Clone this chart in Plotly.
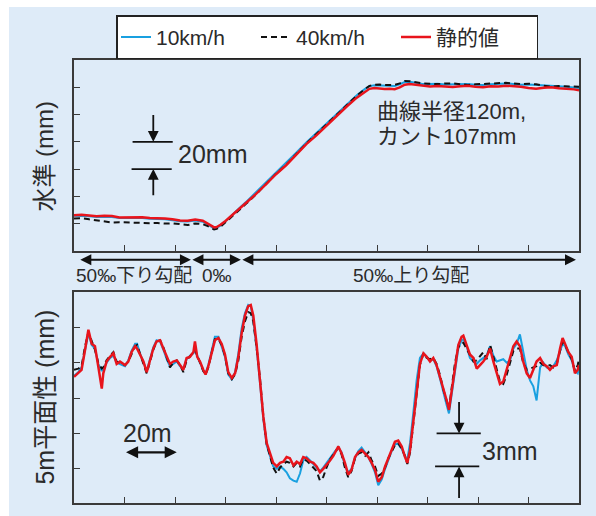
import plotly.graph_objects as go

# ---------------- data ----------------
series_names = ["10km/h", "40km/h", "静的値"]

# top panel: 水準 (mm) vs distance (m)
top_x = [0, 3, 6, 9, 12, 15, 18, 21, 24, 27, 30, 33, 36, 39, 42, 45, 48, 51, 53, 54.5, 55.5,
         56.5, 58, 60, 62, 65, 68, 72, 76, 80, 84, 88, 92, 96, 100, 104, 108, 112, 115, 117,
         119, 121, 123, 125, 127, 129, 131, 133, 135, 138, 141, 144, 147, 150, 153, 156, 159,
         162, 165, 168, 171, 174, 177, 180, 183, 186, 189, 192, 195, 198, 200]
top_red = [6.1, 6.3, 5.8, 5.3, 5.6, 5.5, 4.4, 4.6, 4.3, 4.5, 4.0, 3.9, 3.6, 3.0, 2.2, 2.0, 2.9,
           2.0, 0.0, -2.0, -2.9, -2.6, -1.0, 1.8, 5.0, 9.8, 14.5, 21.5, 28.8, 36.2, 42.8, 50.5,
           58.3, 64.8, 71.8, 79.5, 86.0, 92.5, 96.8, 99.0, 99.6, 99.2, 98.8, 99.0, 98.7, 100.0,
           102.0, 102.6, 102.2, 101.2, 100.8, 101.0, 100.6, 100.3, 100.9, 101.3, 100.6, 100.2,
           100.9, 100.8, 101.3, 101.0, 100.5, 99.6, 99.0, 99.8, 100.1, 99.4, 99.2, 98.6, 98.0]
top_blue = [5.6, 5.6, 5.2, 4.8, 4.9, 4.8, 3.9, 4.0, 3.8, 3.9, 3.4, 3.3, 3.0, 2.4, 1.6, 1.4, 2.2,
            1.3, -0.6, -2.6, -3.6, -3.2, -1.6, 1.5, 5.2, 10.5, 15.5, 22.8, 30.0, 37.6, 44.2,
            52.0, 59.6, 66.5, 73.5, 81.0, 87.8, 94.2, 98.6, 101.0, 101.6, 101.4, 101.2, 101.4,
            101.0, 102.4, 104.0, 104.2, 103.6, 102.6, 102.5, 102.8, 102.2, 102.4, 102.8, 102.6,
            102.0, 101.8, 102.3, 102.5, 103.0, 102.6, 102.0, 102.2, 101.8, 101.5, 100.8, 100.9,
            100.6, 100.2, 99.6]
top_black = [3.7, 3.9, 3.0, 2.2, 1.5, 0.7, 0.9, 0.6, 0.8, 0.5, 0.2, 0.3, -0.1, 0.1, -0.8, -1.2,
             0.0, -0.6, -2.0, -3.8, -4.4, -4.0, -2.5, 0.8, 4.0, 9.0, 14.2, 21.2, 28.5, 36.5, 43.0,
             51.0, 58.8, 65.8, 72.8, 80.5, 87.5, 94.0, 98.5, 101.2, 102.0, 102.2, 101.8, 101.7,
             101.9, 103.0, 104.7, 104.6, 103.8, 103.0, 102.7, 102.5, 102.9, 103.0, 102.4, 101.9,
             102.3, 102.6, 102.4, 102.8, 103.4, 103.0, 102.4, 102.8, 102.3, 101.2, 100.6, 101.0,
             100.9, 100.7, 100.5]

# bottom panel: 5m平面性 (mm) vs distance (m)
bot_x = [0, 1.7, 3, 4.3, 5.7, 7, 8.3, 9.6, 11, 11.6, 12.9, 14.3, 15.6, 16.9, 18.2, 20.2, 21.5,
         22.8, 24.2, 25, 26.1, 27.5, 28.8, 30.1, 31.4, 32.7, 34.1, 35.4, 36.7, 38, 39.3, 40.7,
         42, 43.3, 44.6, 45.9, 47.3, 47.9, 48.8, 49.9, 51.2, 52.1, 53.2, 54.5, 55.8, 57.2, 58.5,
         59.8, 61.1, 62.5, 63.8, 65.1, 66.4, 67.7, 69, 70, 71, 72.3, 73.7, 75, 76.3, 77.6, 78.9,
         80.3, 81.6, 82.9, 84.2, 85.5, 86.9, 88.2, 89.5, 90.8, 92.1, 93.5, 94.8, 96.1, 97.4,
         98.7, 100, 101.4, 102.7, 103.4, 104.7, 106, 107.3, 108.6, 109.9, 111.3, 112.6, 113.9,
         115.3, 116.6, 117.9, 119.2, 120.5, 121.9, 123.2, 124.5, 125.8, 127.1, 128.4, 129.8,
         131.1, 132, 133.1, 134.4, 135.7, 137, 138.4, 139.7, 141, 142.3, 143.6, 145, 146.3,
         147.6, 148.5, 149.6, 150.9, 152.2, 153.5, 154.2, 155.5, 156.8, 158.2, 159.5, 160.8,
         162.1, 163.4, 164.8, 166.1, 167.4, 168.7, 170, 171.4, 172.7, 174, 175.3, 176.6, 177.9,
         179.3, 180.6, 181.9, 183.2, 184.6, 185.9, 187.2, 188.5, 189.8, 191.2, 192.5, 193.5,
         194.5, 195.8, 197.1, 198.4, 199.5, 200]
bot_red = [1.8, 2.1, 2.4, 4.0, 5.8, 4.6, 4.4, 2.7, 0.8, 2.1, 3.1, 3.5, 3.8, 2.9, 3.1, 2.8, 3.1,
           3.9, 4.4, 4.2, 3.7, 3.1, 2.2, 3.2, 4.2, 4.8, 4.9, 4.2, 3.5, 2.9, 3.1, 3.2, 2.8, 2.4,
           3.4, 3.5, 3.9, 4.8, 3.5, 3.1, 2.4, 2.0, 2.7, 3.9, 4.9, 5.1, 4.6, 3.7, 2.2, 1.7, 2.1,
           3.5, 5.5, 7.0, 7.8, 7.9, 7.0, 4.6, 1.5, -1.6, -3.8, -4.7, -5.5, -5.8, -5.5, -5.4,
           -5.0, -5.1, -5.7, -5.4, -5.6, -5.0, -5.1, -5.4, -5.5, -5.8, -6.3, -6.0, -5.7, -5.3,
           -4.9, -4.6, -4.1, -4.7, -5.5, -6.5, -6.1, -5.0, -4.6, -4.4, -4.7, -5.0, -5.5, -6.1,
           -7.1, -6.7, -5.8, -5.1, -4.4, -3.7, -3.6, -4.1, -5.0, -5.5, -4.4, -1.9, 0.7, 2.9,
           3.8, 3.5, 3.1, 3.4, 2.8, 1.8, 0.7, -0.2, -1.0, 0.7, 2.9, 4.5, 5.2, 5.3, 4.5, 3.7,
           3.4, 2.5, 2.8, 3.1, 3.5, 4.2, 3.1, 2.1, 1.2, 1.4, 2.4, 3.4, 4.4, 4.8, 4.4, 3.1, 2.1,
           1.7, 2.4, 3.1, 3.4, 2.9, 2.7, 2.4, 2.7, 2.8, 4.2, 5.1, 4.6, 3.9, 3.5, 2.1, 2.4, 2.8]
bot_blue = [1.9, 2.2, 2.6, 4.1, 5.5, 4.5, 4.2, 2.9, 2.3, 2.5, 3.0, 3.4, 3.6, 3.0, 2.9, 2.7,
            3.2, 4.0, 4.6, 4.6, 3.8, 3.0, 2.3, 3.3, 4.3, 4.9, 4.8, 4.1, 3.3, 2.7, 2.9, 3.1,
            2.7, 2.5, 3.3, 3.6, 3.8, 4.0, 3.6, 3.0, 2.3, 2.1, 2.8, 4.0, 5.2, 5.2, 4.4, 3.5, 2.0,
            1.6, 2.2, 3.8, 5.9, 7.2, 7.9, 7.8, 6.6, 4.3, 1.2, -1.8, -4.0, -5.0, -5.8, -6.0, -5.8,
            -6.0, -6.3, -6.8, -7.0, -7.1, -6.4, -5.3, -5.0, -5.3, -5.6, -5.9, -6.2, -5.9, -5.5,
            -5.0, -4.7, -4.5, -4.2, -4.6, -5.8, -6.3, -6.0, -5.1, -4.5, -4.2, -4.6, -5.0, -5.6,
            -6.3, -7.4, -6.9, -6.0, -5.2, -4.5, -3.9, -3.9, -4.3, -5.0, -5.2, -3.8, -1.2, 1.5,
            3.4, 3.8, 3.5, 3.2, 3.3, 2.7, 1.6, 0.4, -0.6, -1.3, 0.4, 2.6, 4.2, 4.9, 5.0, 4.4,
            3.4, 3.1, 2.9, 3.2, 3.4, 3.6, 4.4, 3.6, 3.1, 3.2, 3.3, 3.0, 3.2, 4.2, 4.6, 5.4, 3.8,
            2.4, 1.5, 1.0, -0.2, 2.6, 3.0, 2.6, 2.5, 2.7, 3.2, 4.0, 4.6, 4.4, 3.7, 3.2, 2.3,
            2.1, 2.6]
bot_black = [2.4, 2.5, 2.7, 4.3, 5.6, 4.8, 4.1, 3.0, 2.5, 2.6, 3.2, 3.6, 3.9, 3.1, 3.0, 2.8,
             3.1, 3.8, 4.4, 4.5, 3.7, 2.9, 2.1, 3.1, 4.1, 4.8, 4.9, 4.3, 3.4, 2.6, 3.0, 3.2,
             2.8, 2.2, 3.2, 3.5, 3.9, 4.1, 3.6, 3.1, 2.3, 2.0, 2.6, 3.8, 5.0, 5.0, 4.5, 3.6, 2.1,
             1.6, 2.0, 3.2, 5.2, 6.5, 7.3, 7.2, 6.5, 4.3, 1.6, -1.6, -3.9, -4.9, -5.9, -6.4, -5.9,
             -5.6, -5.4, -5.5, -5.8, -5.5, -5.8, -5.2, -5.3, -5.6, -5.9, -6.2, -7.0, -6.7, -5.9,
             -5.2, -4.8, -4.6, -4.2, -4.8, -5.9, -6.7, -6.2, -5.1, -4.7, -4.6, -4.9, -4.6, -5.3,
             -5.8, -6.6, -6.4, -5.9, -5.1, -4.5, -4.0, -3.8, -4.3, -4.9, -5.6, -4.6, -2.2, 0.3,
             2.8, 3.8, 3.4, 3.3, 3.4, 2.9, 1.9, 0.7, -0.3, -0.9, 0.9, 3.0, 4.3, 4.7, 4.7, 4.2,
             3.6, 3.1, 3.2, 3.6, 3.9, 3.3, 4.5, 3.5, 2.5, 1.4, 1.2, 2.0, 3.0, 4.0, 4.2, 4.2, 3.0,
             2.4, 2.5, 2.6, 2.7, 3.0, 2.8, 2.7, 2.8, 2.6, 2.9, 4.0, 4.8, 4.5, 3.9, 3.3, 2.3, 2.8,
             3.3]

top_yticks = [0, 20, 40, 60, 80, 100]
bot_yticks = [-6, -3, 0, 3, 6]
x_ticks = [20, 40, 60, 80, 100, 120, 140, 160, 180]

slope_labels = ["50‰下り勾配", "0‰", "50‰上り勾配"]
slope_bounds = [1.9, 46.3, 66.1, 198.8]
slope_label_x = [23.8, 56.6, 133.3]

# ---------------- style ----------------
BLUE = "#19a0e0"
RED = "#e8141c"
BLACK = "#111111"
FRAME = "#3a3a3a"
TXT = "#2a2a2a"
PANEL = "#deebf8"
FONT = "Liberation Sans, Noto Sans CJK JP, sans-serif"

fig = go.Figure()
colors = [BLUE, BLACK, RED]
dashes = ["solid", "6px,4px", "solid"]
widths = [2.0, 2.0, 2.5]
top_vals = [top_blue, top_black, top_red]
bot_vals = [bot_blue, bot_black, bot_red]
for i in range(3):
    fig.add_trace(go.Scatter(x=top_x, y=top_vals[i], mode="lines", name=series_names[i],
                             line=dict(color=colors[i], width=widths[i], dash=dashes[i]),
                             xaxis="x", yaxis="y", legendgroup=series_names[i]))
for i in range(3):
    fig.add_trace(go.Scatter(x=bot_x, y=bot_vals[i], mode="lines", name=series_names[i],
                             line=dict(color=colors[i], width=widths[i], dash=dashes[i]),
                             xaxis="x2", yaxis="y2", legendgroup=series_names[i],
                             showlegend=False))

axis_common = dict(showgrid=False, zeroline=False, showline=True, mirror=True,
                   linecolor=FRAME, linewidth=1.5, ticks="inside", ticklen=6,
                   tickwidth=1.3, tickcolor=FRAME, showticklabels=False)

fig.update_layout(
    width=596, height=516,
    margin=dict(l=74, r=17, t=60, b=13, autoexpand=False),
    paper_bgcolor="white", plot_bgcolor="white",
    font=dict(family=FONT, color=TXT),
    xaxis=dict(domain=[0, 1], range=[0, 200], anchor="y", tickvals=x_ticks, **axis_common),
    yaxis=dict(domain=[0.5688, 1], range=[-20.3, 120.2], anchor="x", tickvals=top_yticks,
               **axis_common),
    xaxis2=dict(domain=[0, 1], range=[0, 200], anchor="y2", tickvals=x_ticks, **axis_common),
    yaxis2=dict(domain=[0, 0.4763], range=[-8.9, 9.0], anchor="x2", tickvals=bot_yticks,
                **axis_common),
    showlegend=True,
    legend=dict(orientation="h", x=0.501, xanchor="center", y=1.101, yanchor="top",
                bgcolor="white", bordercolor="#222", borderwidth=1.5,
                font=dict(size=21, family=FONT, color=TXT), itemwidth=30,
                tracegroupgap=0, entrywidth=95, entrywidthmode="pixels"),
)

# light-blue panel behind everything
fig.add_shape(type="rect", xref="paper", yref="paper", x0=-0.1287, x1=1.05, y0=-0.05,
              y1=1.1196, fillcolor=PANEL, line=dict(width=0), layer="below")

ann = []
# y-axis titles
ann.append(dict(xref="paper", yref="paper", x=-0.0574, y=0.782, text="水準 (mm)",
                textangle=-90, showarrow=False, font=dict(size=24), xanchor="center",
                yanchor="middle"))
ann.append(dict(xref="paper", yref="paper", x=-0.0574, y=0.238, text="5m平面性 (mm)",
                textangle=-90, showarrow=False, font=dict(size=25), xanchor="center",
                yanchor="middle"))

# gradient arrows below top panel
for i in range(3):
    ann.append(dict(xref="x", yref="paper", axref="x", ayref="pixel",
                    x=slope_bounds[i + 1], y=0.5492, ax=slope_bounds[i], ay=0,
                    text="", showarrow=True, arrowhead=2, startarrowhead=2,
                    arrowside="end+start", arrowsize=1.1, startarrowsize=1.1,
                    arrowwidth=2, arrowcolor=BLACK, standoff=0, startstandoff=0))
    ann.append(dict(xref="x", yref="paper", x=slope_label_x[i], y=0.5135,
                    text=slope_labels[i], showarrow=False, font=dict(size=19),
                    xanchor="center", yanchor="middle"))

# 20mm dimension (top panel)
fig.add_shape(type="line", xref="x", yref="y", x0=23.2, x1=39.1, y0=60, y1=60,
              line=dict(color=BLACK, width=1.8))
fig.add_shape(type="line", xref="x", yref="y", x0=22.8, x1=38.7, y0=40, y1=40,
              line=dict(color=BLACK, width=1.8))
ann.append(dict(xref="x", yref="y", axref="x", ayref="y", x=31.4, y=60, ax=31.4, ay=80.9,
                text="", showarrow=True, arrowhead=2, arrowsize=1.2, arrowwidth=1.8,
                arrowcolor=BLACK, standoff=0))
ann.append(dict(xref="x", yref="y", axref="x", ayref="y", x=31.4, y=40, ax=31.4, ay=19.6,
                text="", showarrow=True, arrowhead=2, arrowsize=1.2, arrowwidth=1.8,
                arrowcolor=BLACK, standoff=0))
ann.append(dict(xref="x", yref="y", x=40.5, y=51, text="20mm", showarrow=False,
                font=dict(size=25), xanchor="left", yanchor="middle"))

# curve note
ann.append(dict(xref="x", yref="y", x=119.2, y=82, text="曲線半径120m,", showarrow=False,
                font=dict(size=22), xanchor="left", yanchor="middle"))
ann.append(dict(xref="x", yref="y", x=119.2, y=63.7, text="カント107mm", showarrow=False,
                font=dict(size=22), xanchor="left", yanchor="middle"))

# 20m scale (bottom panel)
ann.append(dict(xref="x2", yref="y2", x=29.1, y=-3.0, text="20m", showarrow=False,
                font=dict(size=25), xanchor="center", yanchor="middle"))
ann.append(dict(xref="x2", yref="y2", axref="x2", ayref="y2", x=40.7, y=-4.6, ax=20, ay=-4.6,
                text="", showarrow=True, arrowhead=2, startarrowhead=2, arrowside="end+start",
                arrowsize=1.1, startarrowsize=1.1, arrowwidth=2.2, arrowcolor=BLACK,
                standoff=0, startstandoff=0))

# 3mm dimension (bottom panel)
fig.add_shape(type="line", xref="x2", yref="y2", x0=143.6, x1=161.1, y0=-3, y1=-3,
              line=dict(color=BLACK, width=1.8))
fig.add_shape(type="line", xref="x2", yref="y2", x0=143.0, x1=160.5, y0=-5.8, y1=-5.8,
              line=dict(color=BLACK, width=1.8))
ann.append(dict(xref="x2", yref="y2", axref="x2", ayref="y2", x=152.5, y=-3, ax=152.5,
                ay=-0.2, text="", showarrow=True, arrowhead=2, arrowsize=1.2,
                arrowwidth=1.8, arrowcolor=BLACK, standoff=0))
ann.append(dict(xref="x2", yref="y2", axref="x2", ayref="y2", x=152.5, y=-5.8, ax=152.5,
                ay=-8.6, text="", showarrow=True, arrowhead=2, arrowsize=1.2,
                arrowwidth=1.8, arrowcolor=BLACK, standoff=0))
ann.append(dict(xref="x2", yref="y2", x=160.8, y=-4.5, text="3mm", showarrow=False,
                font=dict(size=25), xanchor="left", yanchor="middle"))

fig.update_layout(annotations=ann)
fig.write_html("out.html", config={"displayModeBar": False},
               post_script="document.body.style.margin='0';")
